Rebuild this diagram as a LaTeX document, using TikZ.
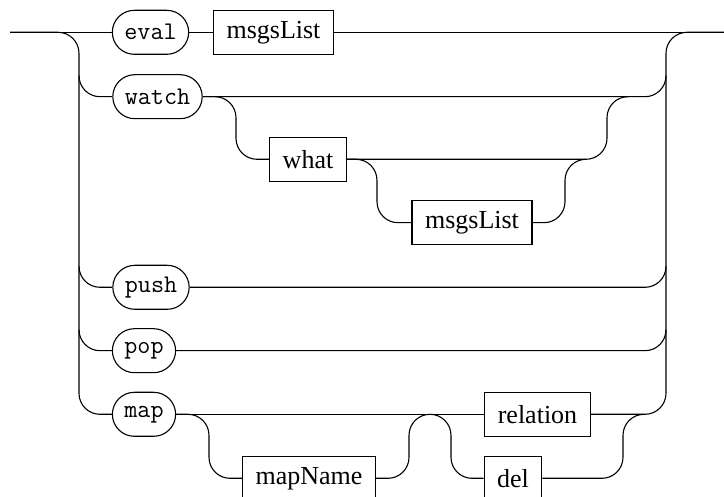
\documentclass[tikz,border=0pt]{standalone}
\usepackage{fontspec}
\setmainfont{Liberation Serif}
\usetikzlibrary{positioning}

\begin{document}
\begin{tikzpicture}[x=0.5pt,y=0.5pt,line width=0.55pt,
    rail/.style={rounded corners=10.5pt},
    nonterm/.style={draw,rectangle,minimum height=22pt,inner xsep=6.5pt,inner ysep=0pt,font=\fontsize{13}{15}\selectfont},
    term/.style={draw,rectangle,rounded corners=11pt,minimum height=22pt,inner xsep=6pt,inner ysep=0pt,font=\fontsize{12.7}{15}\ttfamily}]
        \useasboundingbox (0,0) rectangle (724,-497);
        \clip (0,0) rectangle (724,-497);
        \coordinate (start) at (10,-32.3);
        \coordinate (finish) at (724,-32.3);
        \coordinate (split) at (79,-32.3);
        \coordinate (join) at (666,-32.3);
        \node [term] (eval) at (150.5,-32.3) {eval};
        \node [nonterm] (list1) at (273.5,-32.3) {msgsList};
        \node [term] (watch) at (157.5,-96.7) {watch};
        \node [nonterm] (what) at (308,-159.3) {what};
        \node [nonterm] (list2) at (472,-222.7) {msgsList};
        \node [term] (push) at (151,-287.3) {push};
        \node [term] (pop) at (144,-350.7) {pop};
        \node [term] (map) at (144,-414.3) {map};
        \node [nonterm] (mapname) at (309,-478.3) {mapName};
        \node [nonterm] (relation) at (537.5,-414.3) {relation};
        \node [nonterm] (del) at (513,-478.3) {del};
        \coordinate (wsplit) at (236,-96.7);
        \coordinate (wjoin) at (607,-96.7);
        \coordinate (lsplit) at (377,-159.3);
        \coordinate (ljoin) at (565,-159.3);
        \coordinate (msplit) at (209,-414.3);
        \coordinate (mjoin) at (409,-414.3);
        \coordinate (dsplit) at (451,-414.3);
        \coordinate (djoin) at (623,-414.3);
        \draw (start) -- (eval.west);
        \draw (eval.east) -- (list1.west);
        \draw (list1.east) -- (finish);
        \draw [rail] (start) -- (split) -- (split |- map) -- (map.west);
        \draw [rail] (split |- watch) ++(0,21) -- (split |- watch) -- (watch.west);
        \draw [rail] (split |- push) ++(0,21) -- (split |- push) -- (push.west);
        \draw [rail] (split |- pop) ++(0,21) -- (split |- pop) -- (pop.west);
        \draw [rail] (relation.east) -- (join |- relation) -- (join) -- (finish);
        \draw [rail] (watch.east) -- (join |- watch) -- ++(0,21);
        \draw [rail] (push.east) -- (join |- push) -- ++(0,21);
        \draw [rail] (pop.east) -- (join |- pop) -- ++(0,21);
        \draw [rail] (watch.east) -- (wsplit) -- (wsplit |- what) -- (what.west);
        \draw [rail] (what.east) -- (wjoin |- what) -- (wjoin) -- ++(21,0);
        \draw [rail] (what.east) -- (lsplit) -- (lsplit |- list2) -- (list2.west);
        \draw [rail] (list2.east) -- (ljoin |- list2) -- (ljoin) -- ++(21,0);
        \draw (map.east) -- (relation.west);
        \draw [rail] (map.east) -- (msplit) -- (msplit |- mapname) -- (mapname.west);
        \draw [rail] (mapname.east) -- (mjoin |- mapname) -- (mjoin) -- (dsplit) -- (dsplit |- del) -- (del.west);
        \draw [rail] (del.east) -- (djoin |- del) -- (djoin) -- ++(21,0);
        \end{tikzpicture}
\end{document}
